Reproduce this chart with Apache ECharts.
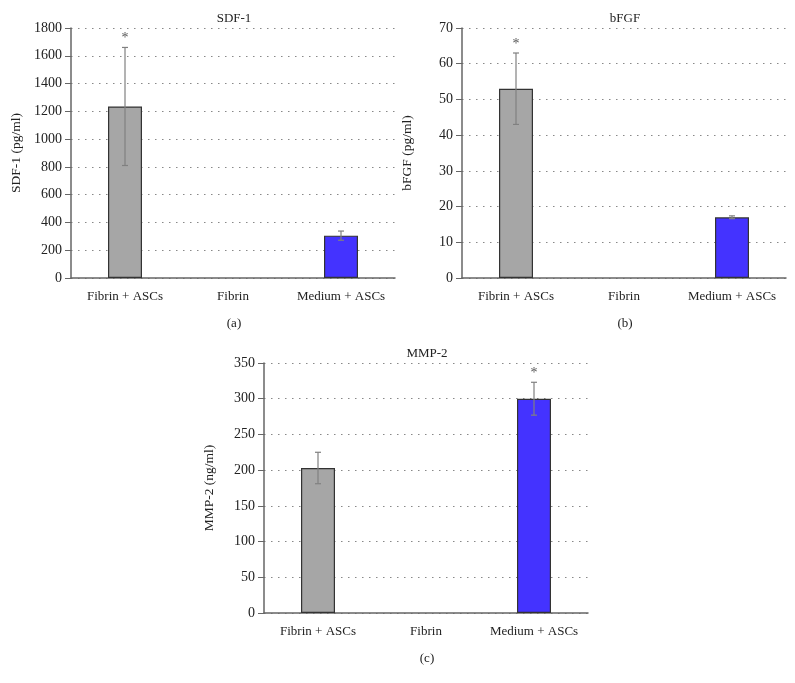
<!DOCTYPE html>
<html>
<head>
<meta charset="utf-8">
<script src="https://cdn.jsdelivr.net/npm/echarts@6/dist/echarts.min.js"></script>
<style>html,body{margin:0;padding:0;background:#fff;}#c{width:795px;height:683px;}</style>
</head>
<body>
<div id="c"></div>
<script>
const categories = ['Fibrin + ASCs', 'Fibrin', 'Medium + ASCs'];

const sdfValues = [1235, 0, 305];
const sdfErrors = [425, 0, 33];
const sdfStars  = [true, false, false];

const bfgfValues = [53, 0, 17];
const bfgfErrors = [10, 0, 0.4];
const bfgfStars  = [true, false, false];

const mmpValues = [203, 0, 300];
const mmpErrors = [22, 0, 23];
const mmpStars  = [false, false, true];

const panels = [
  {title: 'SDF-1', yName: 'SDF-1 (pg/ml)', caption: '(a)', max: 1800, interval: 200, values: sdfValues, errors: sdfErrors, stars: sdfStars, grid: {left: 71, top: 28, width: 324, height: 250}},
  {title: 'bFGF', yName: 'bFGF (pg/ml)', caption: '(b)', max: 70, interval: 10, values: bfgfValues, errors: bfgfErrors, stars: bfgfStars, grid: {left: 462, top: 28, width: 324, height: 250}},
  {title: 'MMP-2', yName: 'MMP-2 (ng/ml)', caption: '(c)', max: 350, interval: 50, values: mmpValues, errors: mmpErrors, stars: mmpStars, grid: {left: 264, top: 363, width: 324, height: 250}}
];

const FONT = '"Liberation Serif", "DejaVu Serif", serif';
const barColors = ['#a6a6a6', '#a6a6a6', '#4433ff'];

const option = {
  animation: false,
  backgroundColor: '#fff',
  title: [],
  grid: [],
  xAxis: [],
  yAxis: [],
  series: []
};

panels.forEach((p, i) => {
  option.grid.push(p.grid);
  const cx = p.grid.left + p.grid.width / 2;
  option.title.push({
    text: p.title, left: cx - 4, top: p.grid.top - 21, textAlign: 'center',
    textStyle: {fontFamily: FONT, fontWeight: 'normal', fontSize: 13, color: '#222'}
  });
  option.title.push({
    text: p.caption, left: cx - 4, top: p.grid.top + p.grid.height + 34, textAlign: 'center',
    textStyle: {fontFamily: FONT, fontWeight: 'normal', fontSize: 13, color: '#222'}
  });
  option.xAxis.push({
    type: 'category', gridIndex: i, data: categories,
    axisLine: {lineStyle: {color: '#666', width: 1.5}},
    axisTick: {alignWithLabel: true, length: 7, lineStyle: {color: '#666', width: 1.2}},
    axisLabel: {interval: 0, fontFamily: FONT, fontSize: 13, color: '#222', margin: 12},
    splitLine: {show: false}
  });
  option.yAxis.push({
    type: 'value', gridIndex: i, min: 0, max: p.max, interval: p.interval,
    name: p.yName, nameLocation: 'middle', nameGap: 48, nameRotate: 90,
    nameTextStyle: {fontFamily: FONT, fontSize: 13.5, color: '#222'},
    axisLine: {show: true, lineStyle: {color: '#666', width: 1.5}},
    axisTick: {show: true, length: 6, lineStyle: {color: '#666', width: 1}},
    axisLabel: {fontFamily: FONT, fontSize: 14, color: '#222', margin: 9, formatter: v => String(v)},
    splitLine: {show: true, lineStyle: {color: '#888', width: 1.2, type: [1.5, 5.5]}}
  });
  option.series.push({
    type: 'bar', xAxisIndex: i, yAxisIndex: i, barWidth: 34,
    data: p.values.map((v, k) => ({value: v, itemStyle: {color: barColors[k], borderColor: '#333', borderWidth: v > 0 ? 1.2 : 0}})),
    z: 2
  });
  option.series.push({
    type: 'custom', xAxisIndex: i, yAxisIndex: i, z: 5,
    data: p.values.map((v, k) => [k, v, p.errors[k], p.stars[k] ? 1 : 0]),
    renderItem: function (params, api) {
      const k = api.value(0), v = api.value(1), e = api.value(2), s = api.value(3);
      const children = [];
      if (e > 0) {
        const top = api.coord([k, v + e]);
        const bot = api.coord([k, v - e]);
        const x = top[0];
        const ls = {stroke: '#808080', lineWidth: 1.2};
        children.push({type: 'line', shape: {x1: x, y1: top[1], x2: x, y2: bot[1]}, style: ls});
        children.push({type: 'line', shape: {x1: x - 3, y1: top[1], x2: x + 3, y2: top[1]}, style: ls});
        children.push({type: 'line', shape: {x1: x - 3, y1: bot[1], x2: x + 3, y2: bot[1]}, style: ls});
        if (s) {
          children.push({type: 'text', style: {text: '*', x: x, y: top[1] - 2, textAlign: 'center', textVerticalAlign: 'bottom', font: '14px ' + FONT, fill: '#555'}});
        }
      }
      return {type: 'group', children: children};
    }
  });
});

const chart = echarts.init(document.getElementById('c'), null, {renderer: 'canvas'});
chart.setOption(option);
</script>
</body>
</html>
